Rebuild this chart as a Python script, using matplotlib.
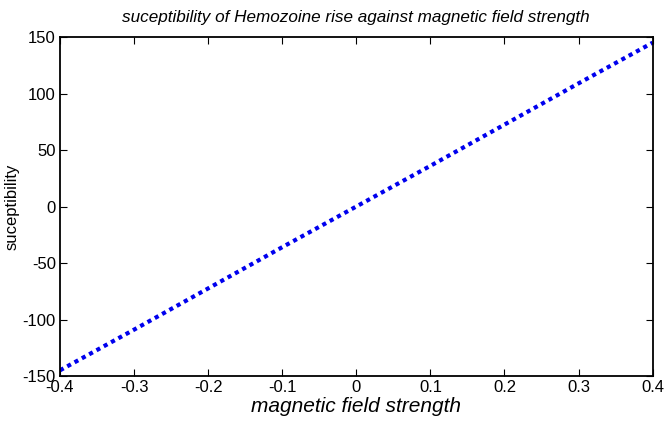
import numpy as np
import matplotlib
matplotlib.use("Agg")
import matplotlib.pyplot as plt

# field strength vs susceptibility values
field = [-0.4, -0.3, -0.2, -0.1, 0.0, 0.1, 0.2, 0.3, 0.4]
suscept = [-145, -109, -72.5, -36, 0, 36, 72.5, 109, 145]

xticks = [-0.4, -0.3, -0.2, -0.1, 0, 0.1, 0.2, 0.3, 0.4]
xticklabels = ["-0.4", "-0.3", "-0.2", "-0.1", "0", "0.1", "0.2", "0.3", "0.4"]
yticks = [-150, -100, -50, 0, 50, 100, 150]

plt.rcParams['font.family'] = ['Liberation Sans', 'DejaVu Sans']
plt.rcParams['axes.unicode_minus'] = False

fig = plt.figure(figsize=(6.66, 4.28), dpi=100)
ax = fig.add_axes([0.090, 0.1215, 0.890, 0.792])

ax.plot(field, suscept, color='#0000ee', linewidth=3, linestyle=(0, (1, 1)),
        dash_capstyle='butt')

ax.set_xlim(-0.4, 0.4)
ax.set_ylim(-150, 150)
ax.set_xticks(xticks)
ax.set_xticklabels(xticklabels)
ax.set_yticks(yticks)
ax.tick_params(direction='in', length=5, width=0.8, top=True, right=True,
               labelsize=12, pad=3)
for s in ax.spines.values():
    s.set_linewidth(1.3)

ax.set_title('suceptibility of Hemozoine rise against magnetic field strength',
             fontsize=12.3, style='italic', pad=11)
ax.set_xlabel('magnetic field strength', fontsize=15, style='italic', labelpad=1)
ax.set_ylabel('suceptibility', fontsize=12)
ax.yaxis.set_label_coords(-0.068, 0.5)

fig.savefig('out.png', dpi=100)
